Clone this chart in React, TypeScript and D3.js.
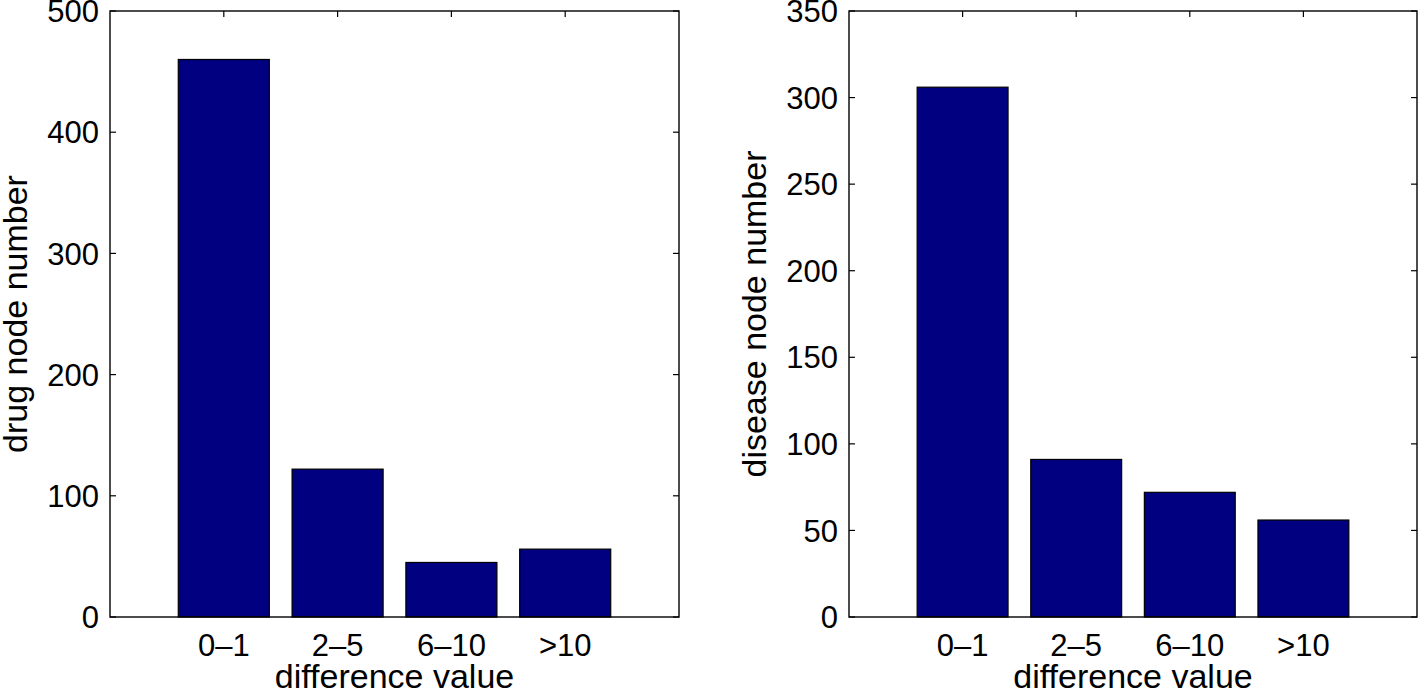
import { useRef, useEffect } from "react";
import * as d3 from "d3";

const categories = ["0\u20131", "2\u20135", "6\u201310", ">10"];
const drugCounts = [460, 122, 45, 56];
const diseaseCounts = [306, 91, 72, 56];
const drugTicks = [0, 100, 200, 300, 400, 500];
const diseaseTicks = [0, 50, 100, 150, 200, 250, 300, 350];

const FONT = "'Liberation Sans', Arial, Helvetica, sans-serif";
const BAR_FILL = "#000080";
const TICK_SIZE = "31px";
const LABEL_SIZE = "34px";

interface PanelSpec {
  left: number;
  right: number;
  values: number[];
  ticks: number[];
  yMax: number;
  yLabel: string;
  yLabelX: number;
}

export default function App() {
  const svgRef = useRef<SVGSVGElement>(null);

  useEffect(() => {
    document.body.style.margin = "0";
    if (!svgRef.current) return;
    const svg = d3.select(svgRef.current);
    svg.selectAll("*").remove();

    const top = 11;
    const bottom = 617;

    const panels: PanelSpec[] = [
      { left: 110, right: 679, values: drugCounts, ticks: drugTicks, yMax: 500, yLabel: "drug node number", yLabelX: 27 },
      { left: 849, right: 1417, values: diseaseCounts, ticks: diseaseTicks, yMax: 350, yLabel: "disease node number", yLabelX: 766 },
    ];

    panels.forEach((p) => {
      const g = svg.append("g");
      // matlab style: categories at 1..n, limits [0, n+1], bar width 0.8
      const x = d3.scaleLinear().domain([0, categories.length + 1]).range([p.left, p.right]);
      const y = d3.scaleLinear().domain([0, p.yMax]).range([bottom, top]);
      const half = 0.4;

      // bars
      g.selectAll("rect.bar")
        .data(p.values)
        .join("rect")
        .attr("class", "bar")
        .attr("x", (_, i) => x(i + 1 - half))
        .attr("y", (d) => y(d))
        .attr("width", (_, i) => x(i + 1 + half) - x(i + 1 - half))
        .attr("height", (d) => bottom - y(d))
        .attr("fill", BAR_FILL)
        .attr("stroke", "#000")
        .attr("stroke-width", 1.2);

      // y ticks (inward, left and right)
      p.ticks.forEach((t) => {
        g.append("line")
          .attr("x1", p.left).attr("x2", p.left + 6)
          .attr("y1", y(t)).attr("y2", y(t))
          .attr("stroke", "#000").attr("stroke-width", 1.2);
        g.append("line")
          .attr("x1", p.right).attr("x2", p.right - 6)
          .attr("y1", y(t)).attr("y2", y(t))
          .attr("stroke", "#000").attr("stroke-width", 1.2);
        g.append("text")
          .attr("x", p.left - 11)
          .attr("y", y(t))
          .attr("dy", "0.36em")
          .attr("text-anchor", "end")
          .style("font-family", FONT)
          .style("font-size", TICK_SIZE)
          .text(String(t));
      });

      // x ticks (inward, top and bottom)
      categories.forEach((c, i) => {
        g.append("line")
          .attr("x1", x(i + 1)).attr("x2", x(i + 1))
          .attr("y1", top).attr("y2", top + 6)
          .attr("stroke", "#000").attr("stroke-width", 1.2);
        g.append("text")
          .attr("x", x(i + 1))
          .attr("y", 656)
          .attr("text-anchor", "middle")
          .style("font-family", FONT)
          .style("font-size", TICK_SIZE)
          .text(c);
      });

      // box
      g.append("rect")
        .attr("x", p.left).attr("y", top)
        .attr("width", p.right - p.left).attr("height", bottom - top)
        .attr("fill", "none")
        .attr("stroke", "#000")
        .attr("stroke-width", 1.4);

      // labels
      g.append("text")
        .attr("x", (p.left + p.right) / 2)
        .attr("y", 688)
        .attr("text-anchor", "middle")
        .style("font-family", FONT)
        .style("font-size", LABEL_SIZE)
        .text("difference value");

      g.append("text")
        .attr("transform", `translate(${p.yLabelX},${(top + bottom) / 2}) rotate(-90)`)
        .attr("text-anchor", "middle")
        .style("font-family", FONT)
        .style("font-size", LABEL_SIZE)
        .text(p.yLabel);
    });
  }, []);

  return (
    <svg
      ref={svgRef}
      width={1418}
      height={696}
      style={{ position: "absolute", left: 0, top: 0, background: "#fff" }}
    />
  );
}
